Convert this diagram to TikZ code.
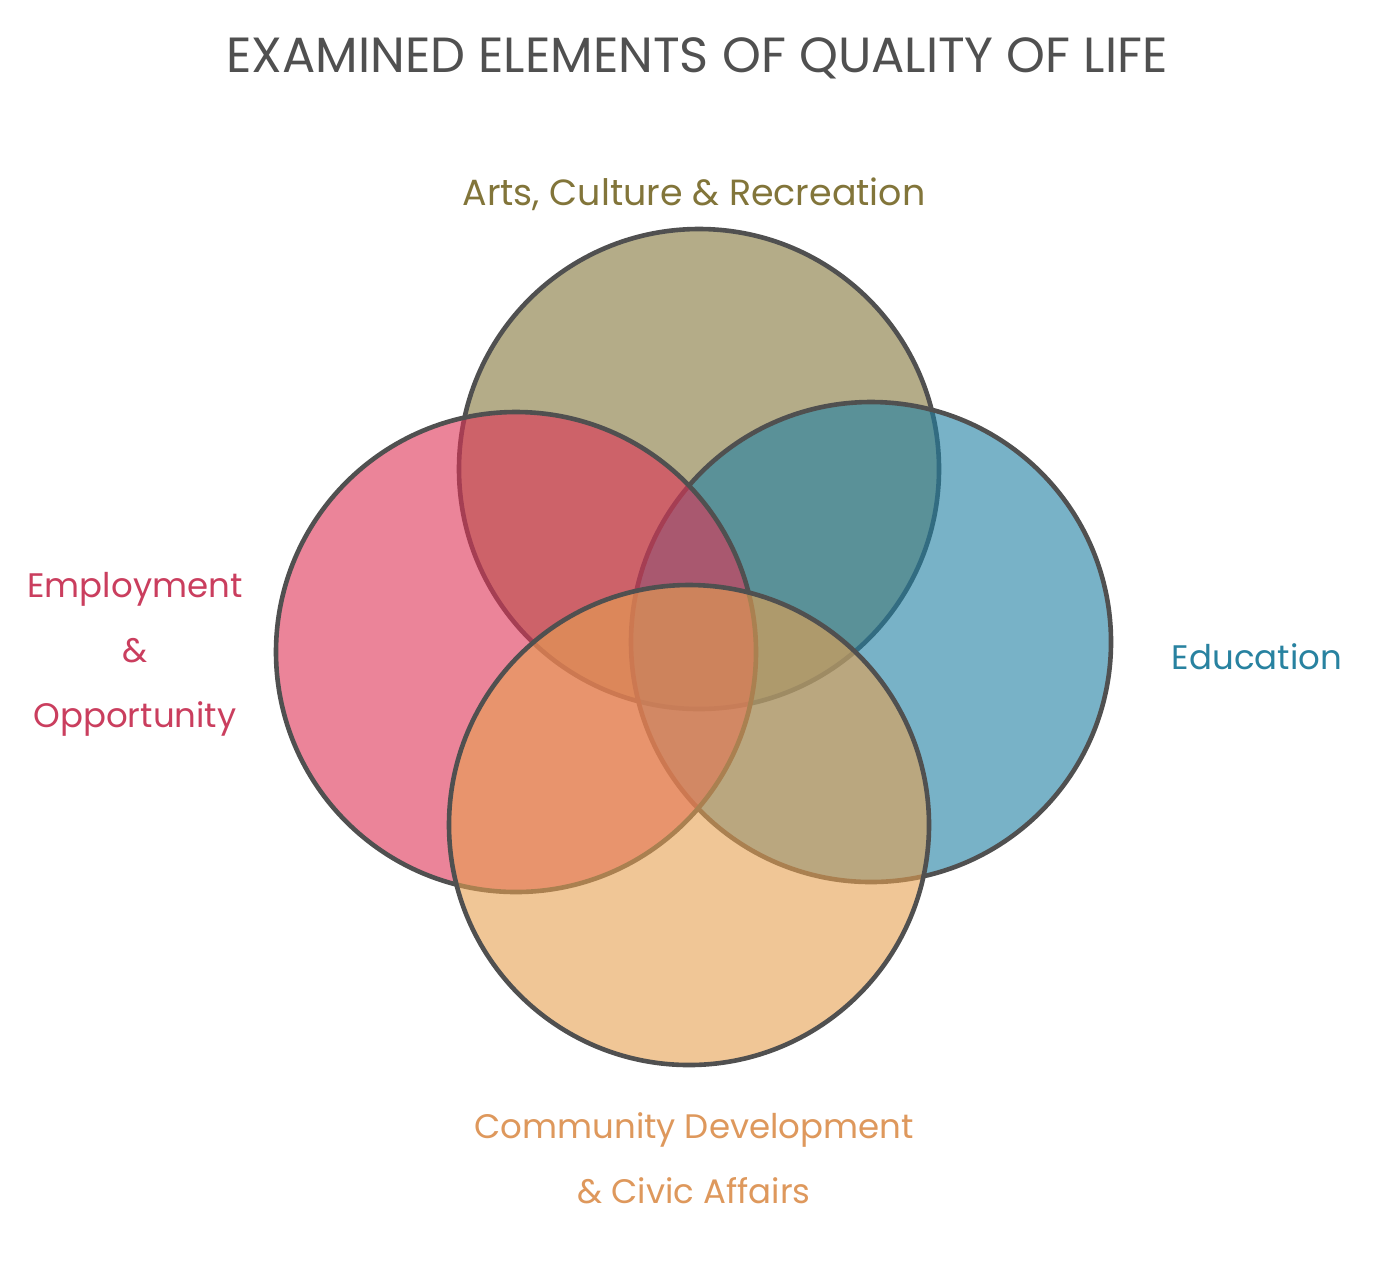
\documentclass[tikz,border=0pt]{standalone}
\usepackage{fontspec}
\setmainfont{Poppins}
\usepackage{tikz}

\begin{document}
\begin{tikzpicture}[x=0.5pt,y=-0.5pt,line cap=rect,
    ring/.style={line width=2.3pt, draw=custcol_50_50_50, fill opacity=0.6, draw opacity=1},
    lbl/.style={inner sep=0, outer sep=0, align=center, anchor=base}]
    \definecolor{custcol_50_50_50}{RGB}{80, 80, 80}
    \definecolor{custcol_82_75_3a}{RGB}{130, 117, 58}
    \definecolor{custcol_1e_7f_a3}{RGB}{30, 127, 163}
    \definecolor{custcol_df_32_55}{RGB}{223, 50, 85}
    \definecolor{custcol_e6_a0_50}{RGB}{230, 160, 80}
    \definecolor{custcol_c8_3c_5a}{RGB}{202, 62, 94}
    \definecolor{custcol_28_82_a0}{RGB}{40, 130, 160}
    \definecolor{custcol_dc_96_5a}{RGB}{222, 152, 92}
    \def\vennfontA#1{\fontsize{24.7pt}{24.7pt}\selectfont#1}
    \def\vennfontB#1{\fontsize{17pt}{32.5pt}\selectfont#1}
    \def\vennfontC#1{\fontsize{18.2pt}{18.2pt}\selectfont#1}
    \useasboundingbox (0,0) rectangle (1390,1260);
    \fill [white] (0,0) rectangle (1390,1260);
    % circles, drawn in stacking order
    \filldraw [ring, fill=custcol_82_75_3a] (699.0,469.0) circle (240);
    \filldraw [ring, fill=custcol_1e_7f_a3] (871.0,642.0) circle (240);
    \filldraw [ring, fill=custcol_df_32_55] (516.0,652.0) circle (240);
    \filldraw [ring, fill=custcol_e6_a0_50] (689.0,825.0) circle (240);
    % texts (base of a multi-line node is its last line)
    \node [lbl, custcol_50_50_50, font=\vennfontA] (title) at (697.0,72.0) {EXAMINED ELEMENTS OF QUALITY OF LIFE};
    \node [lbl, custcol_82_75_3a, font=\vennfontC] (arts) at (694.0,205.0) {Arts, Culture \& Recreation};
    \node [lbl, custcol_c8_3c_5a, font=\vennfontB] (employ) at (135.0,727.0) {Employment\\\&\\Opportunity};
    \node [lbl, custcol_28_82_a0, font=\vennfontB] (educ) at (1257.0,669.0) {Education};
    \node [lbl, custcol_dc_96_5a, font=\vennfontB] (commun) at (694.0,1203.0) {Community Development\\\& Civic Affairs};
\end{tikzpicture}
\end{document}
